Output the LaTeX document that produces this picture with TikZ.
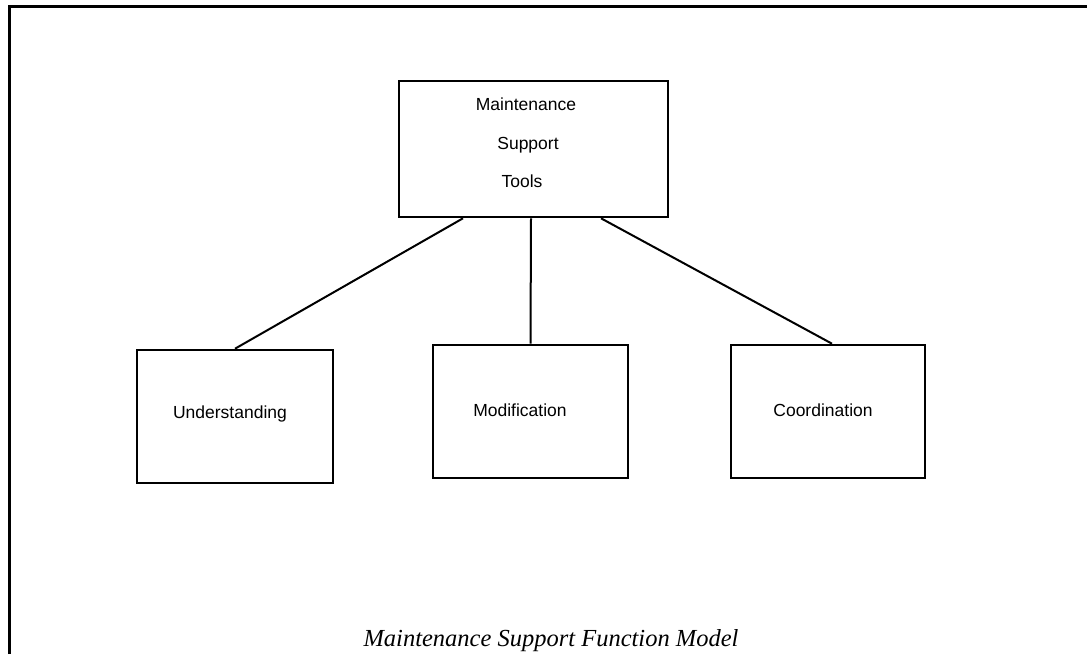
\documentclass[tikz,border=0pt]{standalone}
\usepackage{fontspec}
\setmainfont{Liberation Serif}
\setsansfont{Liberation Sans}
\begin{document}
\begin{tikzpicture}[x=1pt,y=-1pt,
  box/.style={draw=black,line width=2.6pt,minimum width=#1,inner sep=0pt},
  lbl/.style={font=\sffamily\fontsize{17.5}{20}\selectfont,anchor=base,inner sep=0pt},
  link/.style={draw=black,line width=2pt},
  frame/.style={draw=black,line width=3pt}]
\useasboundingbox (0,0) rectangle (1087,654);
% outer frame (top and left sides)
\coordinate (fl) at (9,654);
\coordinate (fc) at (9,6);
\coordinate (fr) at (1087,6);
\draw[frame] (fl) -- (fc) -- (fr);

% boxes
\node[box=269pt,minimum height=136pt] (top) at (533.5,149) {};
\node[box=196pt,minimum height=133pt] (und) at (235,416.5) {};
\node[box=195pt,minimum height=133pt] (mod) at (530.5,411.5) {};
\node[box=194pt,minimum height=133pt] (coo) at (828,411.5) {};

% box texts
\node[lbl] (t1) at (526,110) {Maintenance};
\node[lbl] (t2) at (528,149) {Support};
\node[lbl] (t3) at (522,187) {Tools};
\node[lbl] (tu) at (230,418) {Understanding};
\node[lbl] (tm) at (520,416) {Modification};
\node[lbl] (tc) at (823,416) {Coordination};

% connectors
\draw[link] ([xshift=-70.5pt]top.south) -- (und.north);
\draw[link] ([xshift=-2.5pt]top.south) -- (mod.north);
\draw[link] ([xshift=67.5pt]top.south) -- ([xshift=4pt]coo.north);

% caption
\node[anchor=base,inner sep=0pt,font=\itshape\fontsize{24.5}{28}\selectfont] (cap) at (551,646) {Maintenance Support Function Model};
\end{tikzpicture}
\end{document}
